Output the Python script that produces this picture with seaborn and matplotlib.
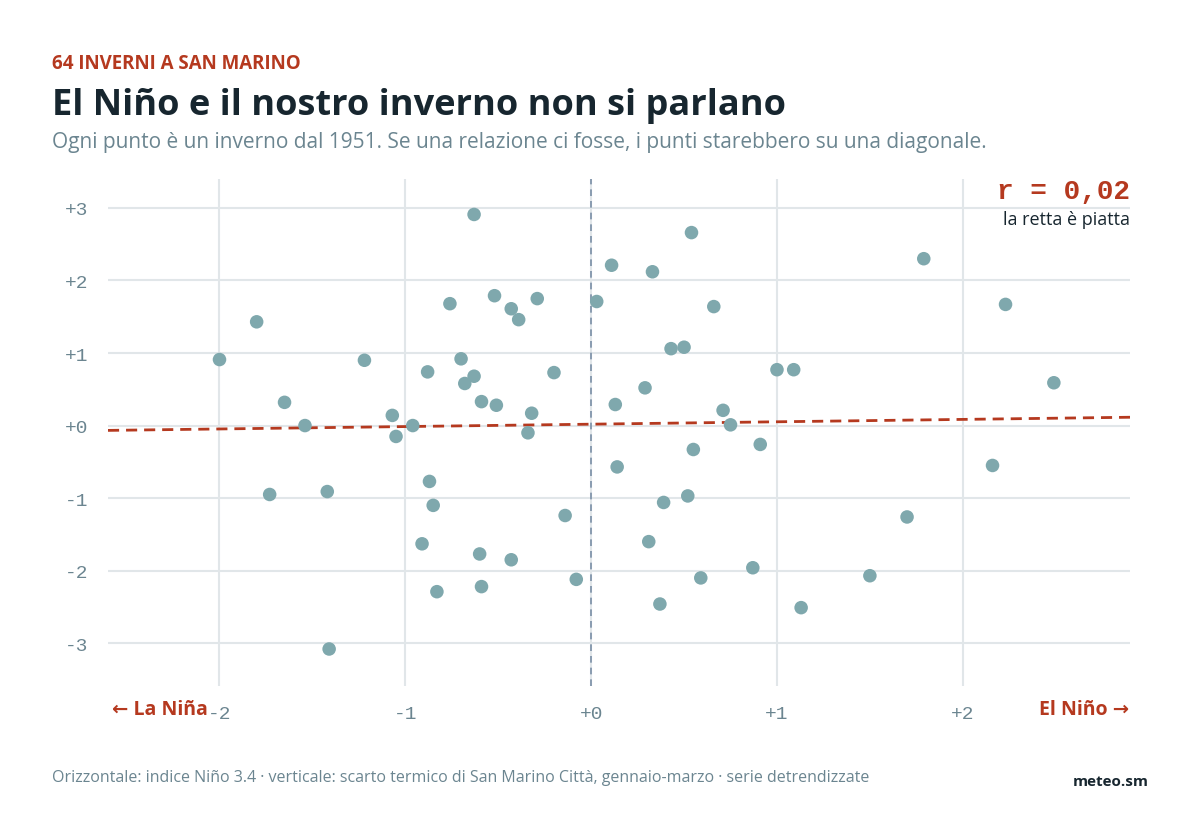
import numpy as np
import matplotlib
matplotlib.use("Agg")
import matplotlib.pyplot as plt
import seaborn as sns

nino = [-2.0,-1.80,-1.65,-1.54,-1.73,-1.42,-1.41,-1.22,-1.07,-1.05,-0.96,-0.88,-0.87,-0.85,-0.91,-0.83,
        -0.76,-0.70,-0.68,-0.63,-0.63,-0.59,-0.60,-0.59,-0.52,-0.51,-0.43,-0.39,-0.43,-0.34,-0.32,-0.29,
        -0.20,-0.14,-0.08,0.03,0.11,0.13,0.14,0.29,0.31,0.33,0.37,0.39,0.43,0.50,0.52,0.54,0.55,0.59,
        0.66,0.71,0.75,0.87,0.91,1.0,1.09,1.13,1.50,1.70,1.79,2.16,2.23,2.49]
temp = [0.91,1.43,0.32,0.0,-0.95,-0.91,-3.08,0.90,0.14,-0.15,0.0,0.74,-0.77,-1.10,-1.63,-2.29,
        1.68,0.92,0.58,0.68,2.91,0.33,-1.77,-2.22,1.79,0.28,1.61,1.46,-1.85,-0.10,0.17,1.75,
        0.73,-1.24,-2.12,1.71,2.21,0.29,-0.57,0.52,-1.60,2.12,-2.46,-1.06,1.06,1.08,-0.97,2.66,-0.33,-2.10,
        1.64,0.21,0.01,-1.96,-0.26,0.77,0.77,-2.51,-2.07,-1.26,2.30,-0.55,1.67,0.59]
x_ticks = [-2,-1,0,1,2]
x_labels = ["-2","-1","+0","+1","+2"]
y_ticks = [-3,-2,-1,0,1,2,3]
y_labels = ["-3","-2","-1","+0","+1","+2","+3"]

RED = "#b5391f"; DARK = "#17262f"; GRAY = "#6b8590"; PT = "#7fa8ad"; GRID = "#e1e6e9"
sns.set_style("white")
plt.rcParams['font.family'] = ['Open Sans', 'DejaVu Sans']

fig = plt.figure(figsize=(12, 8.2), dpi=100)
ax = fig.add_axes([0.09, 0.1622, 0.8517, 0.6184])
XL, XR = -2.6, 2.9
ax.set_xlim(XL, XR); ax.set_ylim(-3.59, 3.4)
for t in x_ticks:
    ax.axvline(t, color=GRID, lw=1.5, zorder=0)
for t in y_ticks:
    ax.axhline(t, color=GRID, lw=1.5, zorder=0)
ax.axvline(0, color="#7a8fa6", lw=1.2, ls=(0, (4, 3)), zorder=1)
sns.scatterplot(x=nino, y=temp, ax=ax, color=PT, s=95, edgecolor="none", zorder=3)
b, a = np.polyfit(nino, temp, 1)
xs = np.array([XL, XR])
ax.plot(xs, a + b * xs, color=RED, lw=2, ls=(0, (4, 2.5)), zorder=2)
for s in ax.spines.values():
    s.set_visible(False)
ax.set_xticks(x_ticks); ax.set_xticklabels(x_labels)
ax.set_yticks(y_ticks); ax.set_yticklabels(y_labels)
ax.tick_params(length=0, labelsize=14, labelcolor=GRAY, pad=14)
for lab in ax.get_xticklabels() + ax.get_yticklabels():
    lab.set_family("Liberation Mono")

fig.text(0.093, 0.134, "← La Niña", color=RED, fontsize=14, fontweight="bold", va="center")
fig.text(0.941, 0.134, "El Niño →", color=RED, fontsize=14, fontweight="bold", va="center", ha="right")
fig.text(0.942, 0.766, "r = 0,02", color=RED, fontsize=20, fontweight="bold", ha="right", va="center", family="Liberation Mono")
fig.text(0.942, 0.732, "la retta è piatta", color=DARK, fontsize=13, ha="right", va="center")

fig.text(0.043, 0.922, "64 INVERNI A SAN MARINO", color=RED, fontsize=13.5, fontweight="bold", va="center")
fig.text(0.043, 0.871, "El Niño e il nostro inverno non si parlano", color=DARK, fontsize=26, fontweight="bold", va="center")
fig.text(0.043, 0.826, "Ogni punto è un inverno dal 1951. Se una relazione ci fosse, i punti starebbero su una diagonale.",
         color=GRAY, fontsize=15, va="center")
fig.text(0.043, 0.051, "Orizzontale: indice Niño 3.4 · verticale: scarto termico di San Marino Città, gennaio-marzo · serie detrendizzate",
         color=GRAY, fontsize=11.5, va="center")
fig.text(0.957, 0.046, "meteo.sm", color=DARK, fontsize=11, fontweight="bold", va="center", ha="right")
fig.savefig("out.png", dpi=100, facecolor="white")
